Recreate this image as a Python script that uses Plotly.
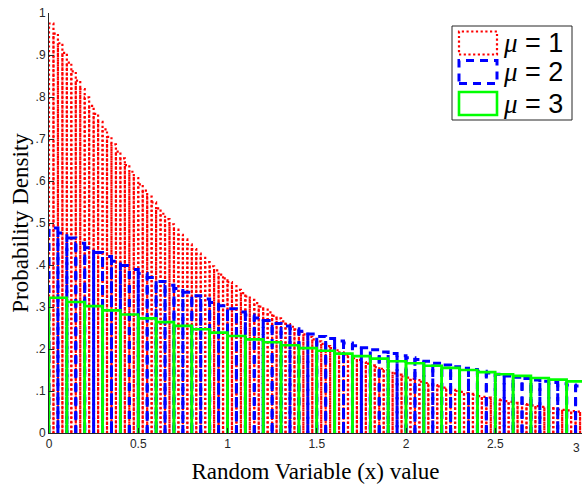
import plotly.graph_objects as go

# ---------------- data ----------------
pdf_mu1 = [.975, .951, .928, .905, .882, .861, .839, .819, .799, .779,
           .760, .741, .723, .705, .687, .670, .654, .638, .622, .607,
           .592, .577, .563, .549, .535, .522, .509, .497, .484, .472,
           .461, .449, .438, .427, .417, .407, .397, .387, .377, .368,
           .359, .350, .341, .333, .325, .317, .309, .301, .294, .287,
           .279, .273, .266, .259, .253, .247, .241, .235, .229, .223,
           .218, .212, .207, .202, .197, .192, .187, .183, .178, .174,
           .169, .165, .161, .157, .153, .150, .146, .142, .139, .135,
           .132, .129, .126, .122, .119, .116, .114, .111, .108, .105,
           .103, .100, .098, .095, .093, .091, .088, .086, .084, .082,
           .080, .078, .076, .074, .072, .071, .069, .067, .066, .064,
           .062, .061, .059, .058, .056, .055, .054, .052, .051, .050]

pdf_mu2 = [.488, .476, .464, .452, .441, .430, .420, .409, .399, .389,
           .380, .370, .361, .352, .344, .335, .327, .319, .311, .303,
           .296, .288, .281, .274, .268, .261, .255, .248, .242, .236,
           .230, .225, .219, .214, .208, .203, .198, .193, .189, .184,
           .179, .175, .171, .166, .162, .158, .154, .151, .147, .143,
           .140, .136, .133, .130, .126, .123, .120, .117, .114, .112]

pdf_mu3 = [.322, .312, .302, .292, .282, .273, .264, .255, .247, .239,
           .231, .223, .216, .209, .202, .196, .189, .183, .177, .171,
           .166, .160, .155, .150, .145, .140, .136, .131, .127, .123]

bin_width_mu1 = 0.025
bin_width_mu2 = 0.05
bin_width_mu3 = 0.1

series_names = ["μ = 1", "μ = 2", "μ = 3"]
x_tick_vals = [0, 0.5, 1, 1.5, 2, 2.5]
x_tick_text = ["0", "0.5", "1", "1.5", "2", "2.5"]
last_x_tick = "3"
y_tick_vals = [0, 0.1, 0.2, 0.3, 0.4, 0.5, 0.6, 0.7, 0.8, 0.9, 1]
y_tick_text = ["0", ".1", ".2", ".3", ".4", ".5", ".6", ".7", ".8", ".9", "1"]
x_title = "Random Variable (x) value"
y_title = "Probability Density"

# ---------------- styling ----------------
W, H = 582, 484
L, R, T, B = 49, 0, 13, 51
AX = "#262626"
RED, BLUE, GREEN = "#ff0000", "#0000ff", "#00ff00"
styles = [
    dict(color=RED, width=2.2, dash="2.2px,2.5px"),
    dict(color=BLUE, width=3, dash="8px,6px"),
    dict(color=GREEN, width=2.6, dash="solid"),
]


def outline(heights, width):
    """Each histogram bin drawn as an open rectangle outline."""
    xs, ys = [], []
    for i, h in enumerate(heights):
        a, b = i * width, (i + 1) * width
        xs += [a, a, b, b, None]
        ys += [0, h, h, 0, None]
    return xs, ys


fig = go.Figure()
for heights, width, name, st in zip(
        [pdf_mu1, pdf_mu2, pdf_mu3],
        [bin_width_mu1, bin_width_mu2, bin_width_mu3],
        series_names, styles):
    xs, ys = outline(heights, width)
    fig.add_trace(go.Scatter(x=xs, y=ys, mode="lines", name=name,
                             line=dict(color=st["color"], width=st["width"],
                                       dash=st["dash"]),
                             connectgaps=False, showlegend=False,
                             hoverinfo="skip"))

plot_w = W - L - R
plot_h = H - T - B
x_max = 3 - 2.5 / 178.5  # axis runs slightly past the window edge


def px_x(p):
    return (p - L) / plot_w


def px_y(p):
    return (H - B - p) / plot_h


shapes = []
annotations = []
# legend box
shapes.append(dict(type="rect", xref="paper", yref="paper",
                   x0=px_x(452), x1=px_x(572), y0=px_y(120), y1=px_y(26),
                   line=dict(color=AX, width=1), fillcolor="white",
                   layer="above"))
centers = [43, 72, 103.5]
for cy, name, st in zip(centers, series_names, styles):
    shapes.append(dict(type="rect", xref="paper", yref="paper",
                       x0=px_x(459), x1=px_x(497),
                       y0=px_y(cy + 11.5), y1=px_y(cy - 11.5),
                       line=dict(color=st["color"], width=st["width"],
                                 dash=st["dash"]),
                       fillcolor="rgba(0,0,0,0)", layer="above"))
    label = name.replace("μ", "<span style='font-family:Liberation Serif'><i>μ</i></span>")
    annotations.append(dict(xref="paper", yref="paper", x=px_x(501),
                            y=px_y(cy), xanchor="left", yanchor="middle",
                            text=label, showarrow=False,
                            font=dict(family="Liberation Sans", size=27,
                                      color="black")))

# last x tick label sits at the window edge
annotations.append(dict(xref="paper", yref="paper", x=1,
                        y=0, yanchor="top", xanchor="right", yshift=-6,
                        text=last_x_tick, showarrow=False,
                        font=dict(family="Liberation Sans", size=12, color=AX)))

fig.update_layout(
    width=W, height=H,
    margin=dict(l=L, r=R, t=T, b=B, autoexpand=False),
    paper_bgcolor="white", plot_bgcolor="white",
    shapes=shapes, annotations=annotations,
    showlegend=False,
)
fig.update_xaxes(range=[0, x_max], tickvals=x_tick_vals, ticktext=x_tick_text,
                 ticks="inside", ticklen=5, tickcolor=AX, tickwidth=1,
                 showline=True, linecolor=AX, linewidth=1, mirror=False,
                 showgrid=False, zeroline=False, automargin=False,
                 tickfont=dict(family="Liberation Sans", size=12, color=AX),
                 title=dict(text=x_title, standoff=20,
                            font=dict(family="Liberation Serif", size=23,
                                      color="black")))
fig.update_yaxes(range=[0, 1], tickvals=y_tick_vals, ticktext=y_tick_text,
                 ticks="inside", ticklen=5, tickcolor=AX, tickwidth=1,
                 showline=True, linecolor=AX, linewidth=1, mirror=False,
                 showgrid=False, zeroline=False, automargin=False,
                 tickfont=dict(family="Liberation Sans", size=12, color=AX),
                 title=dict(text=y_title, standoff=0,
                            font=dict(family="Liberation Serif", size=23,
                                      color="black")))

fig.write_html("out.html")
